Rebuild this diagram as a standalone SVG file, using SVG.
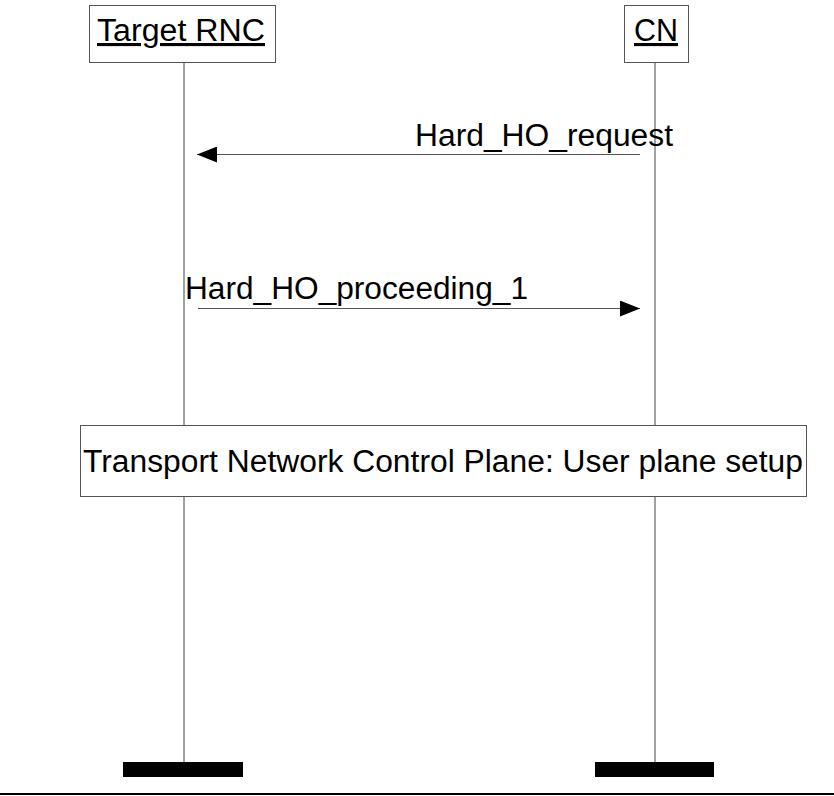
<svg xmlns="http://www.w3.org/2000/svg" width="834" height="796" viewBox="0 0 834 796">
<defs>
<style>
.box{fill:#fff;stroke:#555;stroke-width:1}
.life{stroke:#444;stroke-width:1;fill:none}
.msg{stroke:#555;stroke-width:1;fill:none}
.t{font-family:"Liberation Sans",Arial,sans-serif;font-size:31px;fill:#000}
.bar{fill:#000}
</style>
<marker id="ah" viewBox="0 0 20 16" refX="20" refY="8" markerWidth="20" markerHeight="16" markerUnits="userSpaceOnUse" orient="auto">
<path d="M0,0 L20,8 L0,16 Z" fill="#000"/>
</marker>
</defs>
<rect width="834" height="796" fill="#fff"/>
<g id="lifelines">
<line class="life" x1="184" y1="62" x2="184" y2="425"/>
<line class="life" x1="184" y1="497" x2="184" y2="763"/>
<line class="life" x1="655" y1="62" x2="655" y2="425"/>
<line class="life" x1="655" y1="497" x2="655" y2="763"/>
</g>
<g id="target-rnc">
<rect class="box" x="89.500" y="5.500" width="186" height="57"/>
<text class="t" x="97" y="41" textLength="168" lengthAdjust="spacingAndGlyphs" text-decoration="underline">Target RNC</text>
</g>
<g id="cn">
<rect class="box" x="624.500" y="5.500" width="64" height="57"/>
<text class="t" x="634" y="41" textLength="44" lengthAdjust="spacingAndGlyphs" text-decoration="underline">CN</text>
</g>
<g id="connectors">
<line class="msg" x1="640" y1="154.500" x2="197" y2="154.500" marker-end="url(#ah)"/>
<text class="t" x="415" y="146" textLength="258" lengthAdjust="spacingAndGlyphs">Hard_HO_request</text>
<line class="msg" x1="198" y1="308.500" x2="640" y2="308.500" marker-end="url(#ah)"/>
<text class="t" x="185" y="299" textLength="343" lengthAdjust="spacingAndGlyphs">Hard_HO_proceeding_1</text>
</g>
<g id="tnl-setup">
<rect class="box" x="80.500" y="425.500" width="726" height="71"/>
<text class="t" x="83" y="472" textLength="720" lengthAdjust="spacingAndGlyphs">Transport Network Control Plane: User plane setup</text>
</g>
<g id="ends">
<rect class="bar" x="123" y="762" width="120" height="15"/>
<rect class="bar" x="595" y="762" width="119" height="15"/>
</g>
<line x1="0" y1="794" x2="834" y2="794" stroke="#000" stroke-width="2"/>
</svg>
